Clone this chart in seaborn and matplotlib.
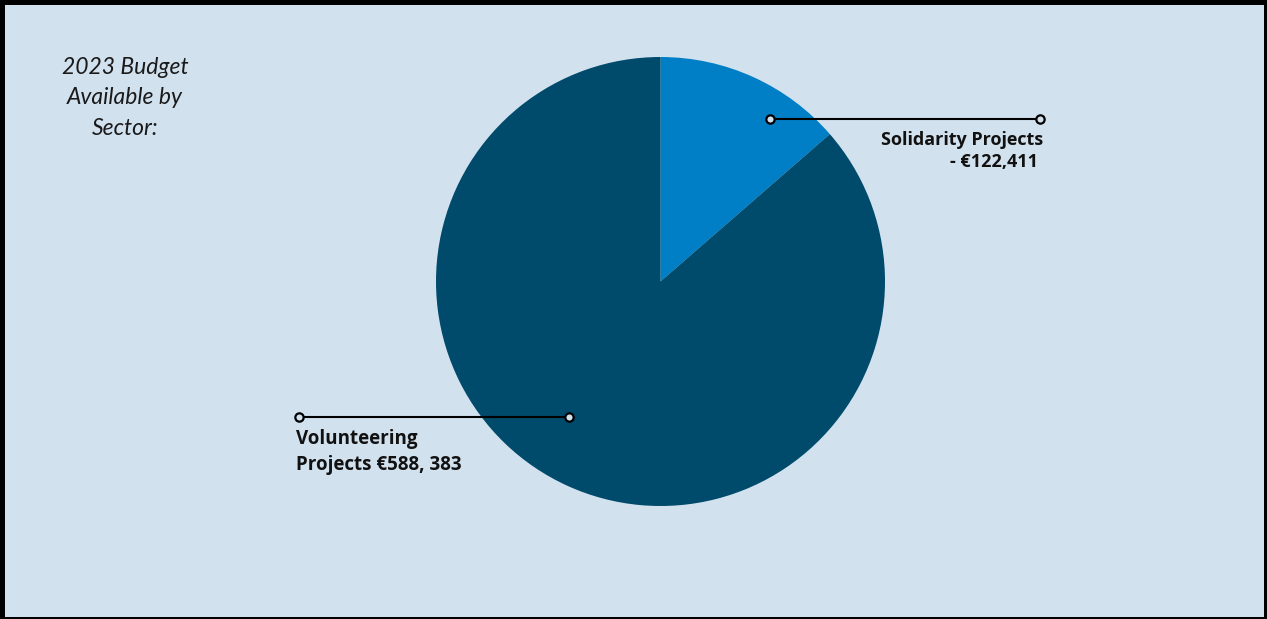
import seaborn as sns
import matplotlib.pyplot as plt
from matplotlib.patches import Rectangle

# wedge shares as drawn in the picture (solidarity ~13.6%), label amounts as printed
sectors = ["Solidarity Projects", "Volunteering Projects"]
share_pct = [13.6, 86.4]
amount_labels = ["- €122,411", "€588, 383"]

bg = "#d2e1ee"
colors = ["#007fc6", "#004a6b"]

sns.set_theme(style="white")
plt.rcParams["font.family"] = ["Open Sans", "DejaVu Sans"]

W, H = 1267, 619
fig = plt.figure(figsize=(W / 100, H / 100), dpi=100)
fig.patch.set_facecolor(bg)

# pie axes: centre (660.5, 281.5) px from top-left, radius 224.5 px
cx, cy, r = 660.5, 281.5, 224.5
ax = fig.add_axes([(cx - r) / W, (H - cy - r) / H, 2 * r / W, 2 * r / H])
ax.pie(share_pct, colors=colors, startangle=90, counterclock=False,
       radius=1, wedgeprops=dict(linewidth=0))
ax.set_xlim(-1, 1)
ax.set_ylim(-1, 1)
ax.axis("off")

# overlay in pixel coordinates for labels, leaders and frame
ov = fig.add_axes([0, 0, 1, 1], zorder=5)
ov.set_xlim(0, W)
ov.set_ylim(H, 0)
ov.axis("off")
ov.patch.set_alpha(0)

ov.text(125, 98, "2023 Budget\nAvailable by\nSector:", ha="center", va="center",
        fontsize=16.5, style="italic", fontweight="normal", linespacing=1.55,
        color="#1a1a1a", family=["Lato", "DejaVu Sans"])

leader = dict(color="black", lw=1.5, marker="o", markersize=6,
              markerfacecolor=bg, markeredgecolor="black", markeredgewidth=1.6)
ov.plot([770, 1040], [119, 119], **leader)
ov.plot([299, 569], [417, 417], **leader)

ov.text(1043, 151, "Solidarity Projects\n" + amount_labels[0] + " ",
        ha="right", va="center", fontsize=13, fontweight="bold",
        linespacing=1.35, color="#111111")
ov.text(296, 452, "Volunteering\nProjects " + amount_labels[1],
        ha="left", va="center", fontsize=13.5, fontweight="bold",
        linespacing=1.45, color="#111111")

# black frame, thicker on left/top
for x, y, w, h in [(0, 0, W, 5), (0, 0, 5, H), (W - 3, 0, 3, H), (0, H - 2, W, 2)]:
    ov.add_patch(Rectangle((x, y), w, h, color="black", lw=0))

fig.savefig("out.png", dpi=100, facecolor=bg)
